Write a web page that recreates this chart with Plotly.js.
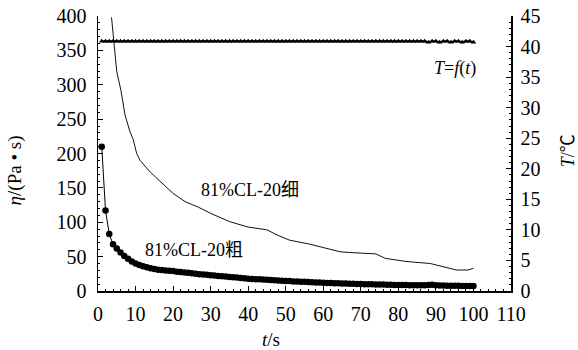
<!DOCTYPE html>
<html><head><meta charset="utf-8">
<script src="https://cdn.plot.ly/plotly-3.0.1.min.js"></script>
<style>html,body{margin:0;padding:0;background:#fff}#c{width:578px;height:350px}</style>
</head><body><div id="c"></div>
<script>
// coarse (粗) viscosity, t = 1..100 s
const coarseT = [];
for (let i = 1; i <= 100; i++) coarseT.push(i);
const coarseEta = [210,117,83,68,62,56,51,47,43,40,38,36,34.5,33,32,31,30.5,30,29.5,29,
  28,27.5,27,26.5,26,25,24.5,24,23.5,23,22.5,22,21.5,21,20.5,20,19.5,19,18.5,18,
  17.5,17.2,17,16.6,16.3,16,15.6,15.3,15,14.7,14.4,14,13.8,13.5,13.3,13,12.8,12.5,12.3,12,
  11.8,11.6,11.4,11.2,11,10.8,10.6,10.4,10.3,10.1,10,9.8,9.7,9.5,9.4,9.3,9.1,9,8.9,8.8,
  8.7,8.6,8.5,8.4,8.3,8.2,8.2,8.8,9,8.5,8,7.9,7.8,7.7,7.6,7.5,7.4,7.3,7.2,7.1];
// fine (细) viscosity
const fineT = [3.6,4.3,5,6.1,7.2,8.5,9.4,10.3,11.2,13.9,17,20,23.2,26.7,30,35,40,45,47.7,51,
  56.5,62,64.5,67,74,76.5,82,88.5,92,95.5,98.5,100];
const fineEta = [398,363,319,292,256,232,220,200,190,173,157,142,130,122,113,101,93,89,81.5,74,
  68,61,57,56,54,47.5,43,40,35,30.5,30.5,33];
// temperature T (°C)
const tempT = coarseT;
const tempVal = [];
for (let i = 0; i < 100; i++) tempVal.push(i > 85 && i % 3 === 0 ? 40.7 : 40.85);

const tickX = [0,10,20,30,40,50,60,70,80,90,100,110];
const FONT = "Times New Roman, Liberation Serif, DejaVu Serif, serif";
const CJK = "Times New Roman, Liberation Serif, Noto Sans CJK SC, serif";

const traces = [
  {x: tempT, y: tempVal, yaxis: 'y2', mode: 'lines+markers', line: {color:'#000', width:2},
   marker: {symbol:'triangle-up', size:5, color:'#000'}, hoverinfo:'skip'},
  {x: fineT, y: fineEta, mode: 'lines', line: {color:'#111', width:1}, hoverinfo:'skip'},
  {x: coarseT, y: coarseEta, mode: 'lines+markers', line: {color:'#000', width:1},
   marker: {symbol:'circle', size:6.5, color:'#000'}, hoverinfo:'skip'}
];

const axFont = {family: FONT, size: 20, color: '#000'};
const layout = {
  width: 578, height: 350,
  margin: {l: 98, r: 67, t: 16, b: 59},
  paper_bgcolor: '#fff', plot_bgcolor: '#fff',
  showlegend: false,
  font: {family: FONT, color: '#000'},
  xaxis: {range: [0, 110], tickvals: tickX, showgrid: false, zeroline: false,
    showline: true, linecolor: '#000', linewidth: 1.5, ticks: 'inside', ticklen: 5, tickcolor: '#000',
    minor: {dtick: 2, ticks: 'inside', ticklen: 2, tickcolor: '#000'},
    tickfont: axFont, ticklabelstandoff: 4},
  yaxis: {range: [0, 400], dtick: 50, showgrid: false, zeroline: false,
    showline: true, linecolor: '#000', linewidth: 1.5, ticks: 'inside', ticklen: 5, tickcolor: '#000',
    minor: {dtick: 10, ticks: 'inside', ticklen: 2, tickcolor: '#000'},
    tickfont: axFont, ticklabelstandoff: 6},
  yaxis2: {range: [0, 45], dtick: 5, overlaying: 'y', side: 'right', showgrid: false, zeroline: false,
    showline: true, linecolor: '#000', linewidth: 1.5, ticks: 'inside', ticklen: 5, tickcolor: '#000',
    minor: {dtick: 1, ticks: 'inside', ticklen: 2, tickcolor: '#000'},
    tickfont: axFont, ticklabelstandoff: 4},
  annotations: [
    {xref:'paper', yref:'paper', x: -0.2, y: 0.44, text: '<i>η</i>/(Pa • s)', showarrow:false,
     textangle: -90, font: {family: FONT, size: 19}, xanchor:'center', yanchor:'middle'},
    {xref:'paper', yref:'paper', x: 1.137, y: 0.51, text: '<i>T</i>/℃', showarrow:false,
     textangle: -90, font: {family: CJK, size: 18}, xanchor:'center', yanchor:'middle'},
    {xref:'paper', yref:'paper', x: 0.42, y: -0.178, text: '<i>t</i>/s', showarrow:false,
     font: {family: FONT, size: 19}, xanchor:'center', yanchor:'middle'},
    {xref:'x', yref:'y', x: 40.5, y: 147, text: '81%CL-20细', showarrow:false,
     font: {family: CJK, size: 18}, xanchor:'center', yanchor:'middle'},
    {xref:'x', yref:'y', x: 25.5, y: 60, text: '81%CL-20粗', showarrow:false,
     font: {family: CJK, size: 18}, xanchor:'center', yanchor:'middle'},
    {xref:'x', yref:'y', x: 95, y: 323, text: '<i>T</i>=<i>f</i>(<i>t</i>)', showarrow:false,
     font: {family: FONT, size: 18}, xanchor:'center', yanchor:'middle'}
  ]
};
Plotly.newPlot('c', traces, layout, {staticPlot: true, displayModeBar: false});
</script></body></html>
